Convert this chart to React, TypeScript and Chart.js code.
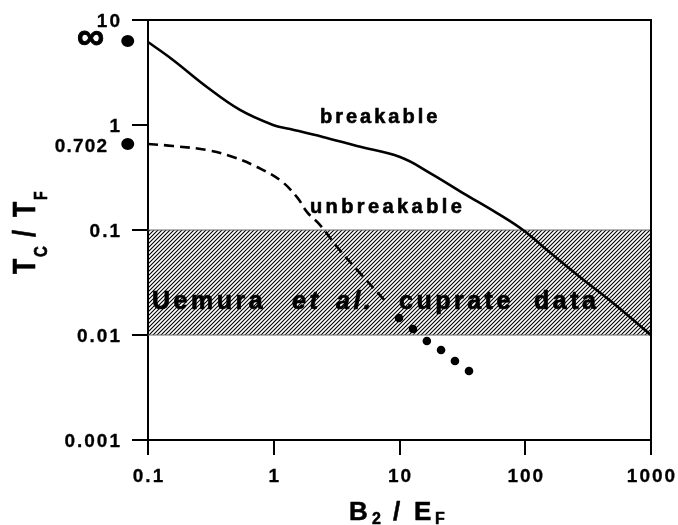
import React, { useEffect, useRef } from 'react';
import { Chart, registerables } from 'chart.js';

Chart.register(...registerables);

// ---- data ----
const xTicks = [0.1, 1, 10, 100, 1000];
const yTicks = [0.001, 0.01, 0.1, 1, 10];

const breakX = [0.1, 0.158, 0.294, 0.539, 0.987, 1.35, 2.46, 4.59, 10.1, 17.5, 32, 59.6, 95.9, 149, 272, 499, 1000];
const breakY = [6.17, 4.16, 2.3, 1.39, 1.0, 0.916, 0.769, 0.631, 0.496, 0.349, 0.225, 0.145, 0.1, 0.0645, 0.0357, 0.0202, 0.01];

const unbX = [0.1, 0.158, 0.294, 0.474, 0.736, 1.12, 1.53, 1.84, 2.33, 3.19, 4.85, 7.96];
const unbY = [0.66, 0.631, 0.578, 0.496, 0.398, 0.299, 0.206, 0.148, 0.112, 0.0689, 0.0389, 0.0202];

const dotX = [9.91, 12.8, 16.5, 21.4, 27.6, 35.7];
const dotY = [0.0145, 0.0114, 0.00877, 0.0072, 0.00565, 0.00454];

const bandX = [0.1, 1000];
const bandTop = [0.1, 0.1];
const bandBottom = [0.01, 0.01];

const limitX = [0.069, 0.069];
const limitY = [6.3, 0.66];
const limitLabels = ['\u221E', '0.702'];

const FONT = '"Liberation Sans", Arial, Helvetica, sans-serif';

function pts(xs: number[], ys: number[]) {
  return xs.map((v, i) => ({ x: v, y: ys[i] }));
}

function makeHatch(ctx: CanvasRenderingContext2D) {
  const c = document.createElement('canvas');
  c.width = 4;
  c.height = 4;
  const g = c.getContext('2d')!;
  g.strokeStyle = '#000';
  g.lineWidth = 1.1;
  g.beginPath();
  g.moveTo(0, 4); g.lineTo(4, 0);
  g.moveTo(-1, 1); g.lineTo(1, -1);
  g.moveTo(3, 5); g.lineTo(5, 3);
  g.stroke();
  return ctx.createPattern(c, 'repeat');
}

function spaced(ctx: any, text: string, x: number, y: number, font: string, ls: number, align: CanvasTextAlign, heavy = 0) {
  ctx.font = font;
  ctx.letterSpacing = ls + 'px';
  ctx.textAlign = align;
  let dx = 0;
  if (align === 'right') dx = ls;
  else if (align === 'center') dx = ls / 2;
  ctx.fillText(text, x + dx, y);
  if (heavy > 0) {
    ctx.lineWidth = heavy;
    ctx.lineJoin = 'round';
    ctx.strokeStyle = '#000';
    ctx.strokeText(text, x + dx, y);
  }
  ctx.letterSpacing = '0px';
}

function rotText(ctx: any, text: string, bx: number, by: number, font: string) {
  ctx.save();
  ctx.translate(bx, by);
  ctx.rotate(-Math.PI / 2);
  ctx.scale(1, 1.25);
  ctx.font = font;
  ctx.textAlign = 'left';
  ctx.textBaseline = 'alphabetic';
  ctx.fillText(text, 0, 0);
  ctx.lineWidth = 0.5;
  ctx.strokeStyle = '#000';
  ctx.strokeText(text, 0, 0);
  ctx.restore();
}

const decor = {
  id: 'decor',
  afterDraw(chart: any) {
    const { ctx, chartArea: a, scales } = chart;
    const xs = scales.x;
    const ys = scales.y;
    ctx.save();
    ctx.fillStyle = '#000';
    ctx.strokeStyle = '#000';

    // top and right frame
    ctx.lineWidth = 2;
    ctx.beginPath();
    ctx.moveTo(a.left, a.top);
    ctx.lineTo(a.right, a.top);
    ctx.lineTo(a.right, a.bottom);
    ctx.stroke();

    // y tick labels
    ctx.textBaseline = 'alphabetic';
    yTicks.forEach((v) => {
      const py = ys.getPixelForValue(v);
      spaced(ctx, String(v), 120, py + 7, `bold 19px ${FONT}`, 2, 'right', 0.3);
    });
    // x tick labels
    xTicks.forEach((v) => {
      const px = xs.getPixelForValue(v);
      spaced(ctx, String(v), px, 482, `bold 19px ${FONT}`, 2, 'center', 0.3);
    });

    // limit dots and labels (left of axis)
    limitX.forEach((v, i) => {
      const px = xs.getPixelForValue(v);
      const py = ys.getPixelForValue(limitY[i]);
      ctx.beginPath();
      ctx.ellipse(px, py, 6.5, 6, 0, 0, Math.PI * 2);
      ctx.fill();
    });
    {
      const py0 = ys.getPixelForValue(limitY[0]);
      ctx.font = `bold 38px ${FONT}`;
      ctx.textAlign = 'right';
      ctx.textBaseline = 'middle';
      ctx.fillText(limitLabels[0], 104, py0 - 3);
      ctx.strokeStyle = '#000';
      ctx.lineWidth = 1;
      ctx.strokeText(limitLabels[0], 104, py0 - 3);
      const py1 = ys.getPixelForValue(limitY[1]);
      ctx.textBaseline = 'alphabetic';
      spaced(ctx, limitLabels[1], 107, py1 + 8, `bold 19px ${FONT}`, 1.2, 'right', 0.3);
    }

    // curve labels
    ctx.textBaseline = 'alphabetic';
    spaced(ctx, 'breakable', 320, 123, `bold 20px ${FONT}`, 3, 'left', 0.6);
    spaced(ctx, 'unbreakable', 310, 213, `bold 20px ${FONT}`, 3.4, 'left', 0.6);

    // band label
    const bf = `bold 25px ${FONT}`;
    const bfi = `italic bold 25px ${FONT}`;
    spaced(ctx, 'Uemura', 152, 309, bf, 3.5, 'left', 0.7);
    spaced(ctx, 'et', 292, 309, bfi, 3.5, 'left', 0.7);
    spaced(ctx, 'al.', 336, 309, bfi, 3.5, 'left', 0.7);
    spaced(ctx, 'cuprate', 399, 309, bf, 3.5, 'left', 0.7);
    spaced(ctx, 'data', 534, 309, bf, 3.5, 'left', 0.7);

    // x title: B2 / EF
    ctx.textAlign = 'left';
    ctx.textBaseline = 'alphabetic';
    ctx.letterSpacing = '0px';
    ctx.lineWidth = 0.5;
    ctx.font = `bold 26px ${FONT}`;
    ctx.fillText('B', 349, 520); ctx.strokeText('B', 349, 520);
    ctx.fillText('/', 393, 520); ctx.strokeText('/', 393, 520);
    ctx.fillText('E', 414, 520); ctx.strokeText('E', 414, 520);
    ctx.font = `bold 16px ${FONT}`;
    ctx.fillText('2', 372, 524); ctx.strokeText('2', 372, 524);
    ctx.fillText('F', 435, 524); ctx.strokeText('F', 435, 524);

    // y title: TC / TF (rotated)
    rotText(ctx, 'T', 35, 274, `bold 25px ${FONT}`);
    rotText(ctx, 'C', 47, 257, `bold 15px ${FONT}`);
    rotText(ctx, '/', 35, 237, `bold 25px ${FONT}`);
    rotText(ctx, 'T', 35, 217, `bold 25px ${FONT}`);
    rotText(ctx, 'F', 47, 200, `bold 14px ${FONT}`);

    ctx.restore();
  },
};

export default function App() {
  const ref = useRef<HTMLCanvasElement | null>(null);

  useEffect(() => {
    const canvas = ref.current!;
    const ctx = canvas.getContext('2d')!;
    const hatch = makeHatch(ctx);

    const axisCommon = (tl: number) => ({
      type: 'logarithmic' as const,
      ticks: { display: false },
      grid: { display: true, drawOnChartArea: false, drawTicks: true, tickLength: tl, color: '#000', lineWidth: 2 },
      border: { display: true, color: '#000', width: 2 },
    });

    const chart = new Chart(canvas, {
      type: 'line',
      data: {
        datasets: [
          {
            label: 'bandTop',
            data: pts(bandX, bandTop),
            borderColor: '#666',
            borderWidth: 1,
            pointRadius: 0,
            fill: false,
            order: 5,
          },
          {
            label: 'bandBottom',
            data: pts(bandX, bandBottom),
            borderColor: '#666',
            borderWidth: 1,
            pointRadius: 0,
            fill: '-1',
            backgroundColor: hatch as any,
            order: 5,
          },
          {
            label: 'breakable',
            data: pts(breakX, breakY),
            borderColor: '#000',
            borderWidth: 2.6,
            pointRadius: 0,
            fill: false,
            tension: 0.4,
            order: 1,
          },
          {
            label: 'unbreakable',
            data: pts(unbX, unbY),
            borderColor: '#000',
            borderWidth: 2.6,
            borderDash: [10, 6],
            pointRadius: 0,
            fill: false,
            tension: 0.4,
            order: 1,
          },
          {
            label: 'dots',
            data: pts(dotX, dotY),
            showLine: false,
            pointRadius: 4.3,
            pointBackgroundColor: '#000',
            pointBorderColor: '#000',
            pointBorderWidth: 0,
            fill: false,
            order: 1,
          },
        ],
      },
      options: {
        animation: false,
        responsive: false,
        maintainAspectRatio: false,
        layout: { padding: { left: 0, right: 27, top: 20, bottom: 0 } },
        plugins: { legend: { display: false }, tooltip: { enabled: false } },
        scales: {
          x: {
            ...axisCommon(15),
            min: 0.1,
            max: 1000,
            afterBuildTicks: (s: any) => { s.ticks = xTicks.map((v) => ({ value: v })); },
            afterFit: (s: any) => { s.height = 85; },
          },
          y: {
            ...axisCommon(16),
            min: 0.001,
            max: 10,
            afterBuildTicks: (s: any) => { s.ticks = yTicks.map((v) => ({ value: v })); },
            afterFit: (s: any) => { s.width = 148; },
          },
        },
      } as any,
      plugins: [decor],
    });

    return () => chart.destroy();
  }, []);

  return (
    <div style={{ position: 'fixed', left: 0, top: 0, width: 678, height: 525, background: '#fff' }}>
      <canvas ref={ref} width={678} height={525} style={{ display: 'block' }} />
    </div>
  );
}
